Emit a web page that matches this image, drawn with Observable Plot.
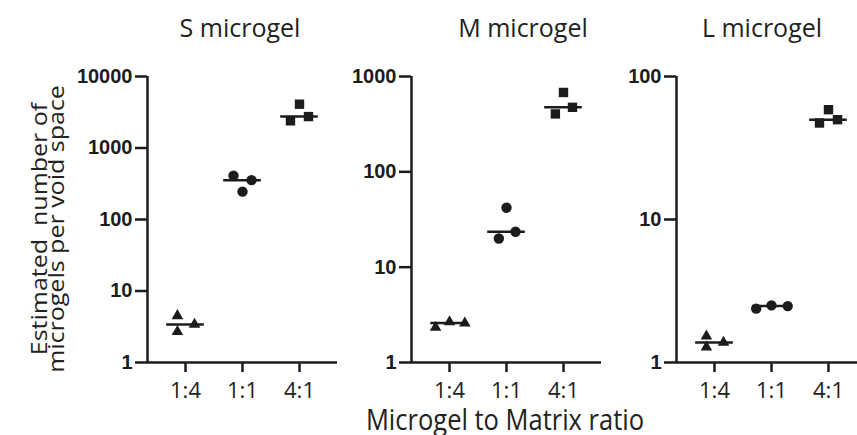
<!DOCTYPE html>
<html>
<head>
<meta charset="utf-8">
<script src="https://cdn.jsdelivr.net/npm/d3@7"></script>
<script src="https://cdn.jsdelivr.net/npm/@observablehq/plot@0.6"></script>
<style>
  html, body { margin: 0; padding: 0; background: #fff; }
  #wrap { position: relative; width: 857px; height: 435px; overflow: hidden; background: #fff; }
  .panel { position: absolute; top: 0; }
  .txt { position: absolute; font-family: "Open Sans", sans-serif; color: #222; white-space: pre; text-align: center; }
</style>
</head>
<body>
<div id="wrap"></div>
<script>
// ---------- data ----------
const ratios = ["1:4", "1:1", "4:1"];
const shapes = ["triangle", "circle", "square"];
const panelNames = ["S microgel", "M microgel", "L microgel"];

// values per ratio (three replicates each)
const sValues = [[4.5, 2.7, 3.4], [410, 245, 355], [4100, 2400, 2750]];
const mValues = [[2.33, 2.67, 2.59], [42, 20, 23.5], [680, 405, 475]];
const lValues = [[1.53, 1.28, 1.38], [2.38, 2.51, 2.48], [58.6, 47.3, 49.9]];

// horizontal scatter slot of each replicate (GraphPad-style spread)
const sJitter = [[-0.9, -0.9, 1], [-1, 0, 1], [0, -1, 1]];
const mJitter = [[-1.55, 0, 1.7], [0, -0.85, 1], [0, -0.9, 1]];
const lJitter = [[-0.9, -0.9, 1], [-1.7, 0, 1.8], [0, -1, 1]];

// y tick labels per panel
const sTicks = [1, 10, 100, 1000, 10000];
const mTicks = [1, 10, 100, 1000];
const lTicks = [1, 10, 100];

const xTitle = "Microgel to Matrix ratio";
const yTitle = ["Estimated  number of", "microgels per void space"];

// ---------- layout ----------
const ink = "#1c1c1c";
const W = 857, H = 435;
const panels = [
  {name: panelNames[0], values: sValues, jitter: sJitter, ticks: sTicks, left: 0,   width: 345, ml: 147, mr: 8, xmax: 2.667, titleCx: 240},
  {name: panelNames[1], values: mValues, jitter: mJitter, ticks: mTicks, left: 345, width: 260, ml: 66,  mr: 4, xmax: 2.667, titleCx: 523},
  {name: panelNames[2], values: lValues, jitter: lJitter, ticks: lTicks, left: 605, width: 252, ml: 71,  mr: 0, xmax: 2.509, titleCx: 762}
];
const xmin = -0.667;
const slotUnit = 0.158;
const symbolR = {triangle: 4.3, circle: 5.2, square: 5.3};

const wrap = document.getElementById("wrap");

for (const p of panels) {
  const points = [];
  p.values.forEach((vals, i) => vals.forEach((v, k) => points.push({i, value: v, slot: p.jitter[i][k], shape: shapes[i]})));
  const medians = p.values.map((vals, i) => ({i, median: d3.median(vals)}));

  const chart = Plot.plot({
    width: p.width,
    height: H,
    marginLeft: p.ml,
    marginRight: p.mr,
    marginTop: 76,
    marginBottom: 73,
    style: {background: "transparent", color: ink, overflow: "visible"},
    x: {type: "linear", domain: [xmin, p.xmax]},
    y: {type: "log", domain: [1, d3.max(p.ticks)]},
    marks: [
      Plot.axisY({
        ticks: p.ticks, tickFormat: d => String(d), tickSize: 12, tickPadding: 3,
        strokeWidth: 2.5, stroke: ink, fill: ink, fontSize: 20, fontWeight: "bold",
        fontFamily: "Liberation Sans, Arial, sans-serif", label: null
      }),
      Plot.axisX({
        ticks: [0, 1, 2], tickFormat: i => ratios[i], tickSize: 10, tickPadding: 10,
        strokeWidth: 2.5, stroke: ink, fill: "#222", fontSize: 22,
        fontFamily: "Open Sans, sans-serif", label: null
      }),
      Plot.ruleX([xmin], {stroke: ink, strokeWidth: 2.5}),
      Plot.ruleY([1], {stroke: ink, strokeWidth: 2.5}),
      Plot.ruleY(medians, {y: "median", x1: d => d.i - 0.33, x2: d => d.i + 0.33, stroke: ink, strokeWidth: 2.5}),
      ...shapes.map(s => Plot.dot(points.filter(d => d.shape === s), {
        x: d => d.i + d.slot * slotUnit, y: "value", symbol: s, r: symbolR[s], fill: ink, stroke: "none"
      }))
    ]
  });
  chart.classList.add("panel");
  chart.style.left = p.left + "px";
  wrap.appendChild(chart);

  const t = document.createElement("div");
  t.className = "txt";
  t.textContent = p.name;
  Object.assign(t.style, {left: (p.titleCx - 100) + "px", width: "200px", top: "14.8px", fontSize: "25px", lineHeight: "25px"});
  wrap.appendChild(t);
}

// x axis title (baseline near y = 430)
const xt = document.createElement("div");
xt.className = "txt";
xt.textContent = xTitle;
Object.assign(xt.style, {left: (505 - 200) + "px", width: "400px", top: "411.1px", fontSize: "25.5px", lineHeight: "18px",
  transform: "scaleY(1.15)", transformOrigin: "50% 18.9px"});
wrap.appendChild(xt);

// y axis title (two lines, rotated)
const yt = document.createElement("div");
yt.className = "txt";
yt.textContent = yTitle.join("\n");
Object.assign(yt.style, {left: (46.5 - 160) + "px", width: "320px", height: "32px", top: (229 - 16) + "px", fontSize: "21px", lineHeight: "16.5px",
  transform: "rotate(-90deg) scaleX(1.19)", transformOrigin: "50% 50%"});
wrap.appendChild(yt);
</script>
</body>
</html>
